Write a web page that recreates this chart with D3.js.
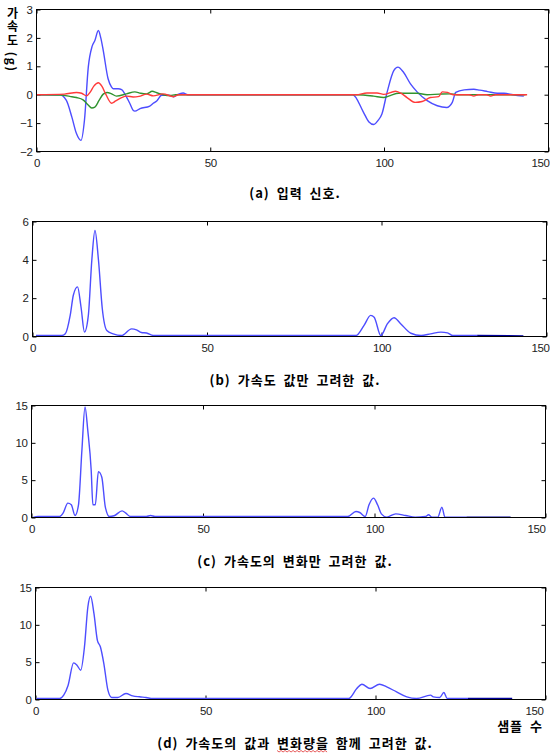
<!DOCTYPE html>
<html>
<head>
<meta charset="utf-8">
<script src="https://cdn.jsdelivr.net/npm/d3@7"></script>
<style>
body { margin: 0; background: #fff; }
.tick text { font-family: "Liberation Sans", Arial, sans-serif; font-size: 11.5px; letter-spacing: -0.4px; fill: #222; }
.tick line { stroke: #000; }
.cap { font-family: "Noto Sans CJK KR", sans-serif; font-weight: bold; font-size: 13px;
       letter-spacing: 1px; word-spacing: 3px; fill: #000; }
.ylab { font-family: "Noto Sans CJK KR", sans-serif; font-weight: bold; font-size: 12px; fill: #000;
        writing-mode: vertical-rl; text-orientation: mixed; letter-spacing: 1.5px; }
</style>
</head>
<body>
<div id="chart"></div>
<script>
// x axis: sample number
var xStops = [0, 100, 150];
var xTicks = [0, 50, 100, 150];

// y ticks per panel
var aTicks = [-2, -1, 0, 1, 2, 3];
var bTicks = [0, 2, 4, 6];
var cTicks = [0, 5, 10, 15];
var dTicks = [0, 5, 10, 15];

// (a) input signal, three axes [sample, g]
var aBlue = [[0,0],[6.7,0],[8.6,-0.2],[10.2,-0.8],[11.5,-1.37],[12.8,-1.61],[13.8,-0.9],[14.9,0.97],
  [16,1.7],[16.8,1.91],[17.8,2.26],[18.5,2.0],[19.2,1.56],[20.6,0.56],[21.6,0.27],[22.1,0.21],
  [23.5,0.21],[24.5,0.18],[25.4,0.03],[26.9,-0.32],[27.8,-0.55],[28.3,-0.58],[29.8,-0.49],
  [32.6,-0.4],[33.6,-0.3],[34.6,-0.22],[36,-0.02],[38,-0.02],[39.4,-0.07],[40.5,0],[42.2,0.06],
  [43.5,0],[91,0],[94.1,-0.62],[95.6,-0.95],[97.1,-1.05],[98.2,-0.92],[99.4,-0.68],[100.95,0.09],
  [102.97,0.85],[104.24,0.97],[105.93,0.79],[108.05,0.38],[110.06,0.1],[113.13,-0.21],[116.2,-0.39],
  [119.06,-0.45],[120.76,-0.27],[121.8,0.08],[124.36,0.17],[127.3,0.19],[129.1,0.16],[131.5,0.11],
  [134.5,0.05],[136.5,0.05],[139.2,0],[142.5,-0.05]];
var aGreen = [[0,0],[7,-0.01],[9.6,-0.06],[11.5,-0.1],[13.4,-0.18],[14.8,-0.35],[15.9,-0.47],
  [16.8,-0.44],[18,-0.2],[19.2,0.02],[20.3,0.08],[21.5,0.04],[23,-0.05],[25.9,0.03],[28.3,0.1],
  [30,0.05],[31.7,0.03],[33.3,0.12],[34.6,0.07],[36.5,0],[38.5,-0.03],[40,0],[92,0],[97,-0.05],
  [99.9,-0.1],[101.9,-0.03],[104.4,0.05],[110.1,0.05],[113.1,0],[116.9,0.02],[120.1,0.03],
  [122.2,0],[143,0]];
var aRed = [[0,0],[8,0.02],[11.5,0.08],[13,0.05],[14.4,-0.04],[15.5,0.1],[16.5,0.3],[17.8,0.42],
  [18.8,0.3],[20,0],[21.6,-0.3],[22.8,-0.22],[24.5,-0.1],[26,-0.05],[27.8,-0.08],[29.5,-0.06],
  [31.7,0.02],[33.6,-0.04],[36.4,0.03],[39.4,-0.07],[41,0],[92,0],[95.1,0.06],[98,0.06],
  [99.9,0.01],[103.5,0.12],[105,0.06],[107,-0.1],[109.5,-0.27],[111.6,-0.24],[114.1,-0.1],
  [116.6,-0.07],[117.7,0.1],[119.3,0.08],[121.2,0],[125.9,0],[127.3,-0.05],[128.6,0],[131.2,0],
  [132.4,-0.05],[133.9,0],[143.5,0]];

// (b) acceleration value only
var bBlue = [[1,0.05],[8.4,0.05],[9.4,0.14],[10.8,1.1],[11.7,2.15],[12.9,2.59],[13.9,1.54],
  [14.9,0.23],[16,1.1],[17,3.99],[17.9,5.53],[18.9,3.99],[20,1.45],[21.3,0.31],[23.1,0.14],
  [25.5,0.05],[28.4,0.4],[29.8,0.35],[31.2,0.21],[32.7,0.18],[34.6,0.05],[92.7,0.05],[95,0.58],
  [96.9,1.1],[97.9,1.01],[99.8,0.05],[101.8,0.67],[103.8,0.98],[105.8,0.67],[108.9,0.17],
  [112,0.05],[114.9,0.14],[118,0.23],[120,0.19],[121.6,0.05],[129,0.05]];
var bTail = [[129,0.05],[143,0.03]];

// (c) change of acceleration only
var cBlue = [[0.5,0],[1.9,0.13],[8.2,0.13],[9.2,0.58],[10.6,1.92],[11.6,1.7],[12.7,0.27],
  [13.7,1.7],[14.7,9.04],[15.6,14.82],[16.4,11.7],[17.4,6.37],[17.9,1.7],[18.6,1.7],[19.5,6.14],
  [20.5,5.39],[21.5,1.47],[22.7,0.13],[24.1,0.23],[26.4,0.89],[27.5,0.58],[28.8,0.13],[33.5,0.13],
  [34.7,0.27],[36,0.13],[92.2,0.13],[94.6,0.8],[95.7,0.67],[97.3,0.13],[98.4,1.7],[99.7,2.59],
  [100.9,1.7],[102,0.49],[103.6,0.05],[106.2,0.49],[109.1,0.27],[111.9,0.05],[114.9,0.13],
  [115.8,0.36],[116.8,0.05],[118.5,0.05],[119.7,1.39],[120.6,0.05],[126.9,0.05]];
var cTail = [[126.9,0.05],[139.8,0.05]];

// (d) value and change together
var dBlue = [[0.3,0.13],[7.1,0.13],[8.3,0.58],[9.6,1.92],[11.2,4.9],[12.2,4.59],[13.3,3.92],
  [14.4,7.04],[15.4,12.39],[16.2,13.82],[17.2,11.5],[18.2,7.93],[19.1,7.04],[20.1,4.82],
  [21.3,1.25],[22.4,0.27],[24.2,0.27],[26.6,0.8],[28.6,0.49],[30.6,0.36],[32.5,0.27],[34.5,0.13],
  [92.1,0.13],[94.5,1.47],[96,2.05],[98.4,1.47],[101.2,2.05],[103.3,1.69],[106.2,1.02],
  [109.2,0.35],[112.1,0.13],[116.2,0.58],[117,0.35],[118.9,0.27],[120.1,0.94],[121.1,0.13],
  [127.2,0.13]];
var dTail = [[127.2,0.13],[140.2,0.13]];

var captions = ["(a) 입력 신호.", "(b) 가속도 값만 고려한 값.",
  "(c) 가속도의 변화만 고려한 값.", "(d) 가속도의 값과 변화량을 함께 고려한 값."];
var yLabel = "가속도 (g)";
var xLabel = "샘플 수";

var svgWidth = 550;
var svgHeight = 754;

var svg = d3.select("#chart").append("svg")
    .attr("width", svgWidth)
    .attr("height", svgHeight);

// panel boxes (layout)
var panels = [
  {left: 36.5, x100: 384, right: 548.5, top: 9.5, bottom: 151.5, ticks: aTicks, capY: 193, lastEnd: 549,
   series: [{d: aBlue, c: "#4d4dff"}, {d: aGreen, c: "#2f932f"}, {d: aRed, c: "#ff3a3a"}]},
  {left: 32.5, x100: 381.5, right: 546.5, top: 221.5, bottom: 336.5, ticks: bTicks, capY: 380, lastEnd: 549,
   series: [{d: bBlue, c: "#4d4dff"}, {d: bTail, c: "#00009a"}]},
  {left: 31.5, x100: 374.5, right: 545.5, top: 405.5, bottom: 517.5, ticks: cTicks, capY: 561, lastEnd: 545,
   series: [{d: cBlue, c: "#4d4dff"}, {d: cTail, c: "#00009a"}]},
  {left: 35.5, x100: 375.5, right: 545.5, top: 587.5, bottom: 699.5, ticks: dTicks, capY: 743, lastEnd: 543,
   series: [{d: dBlue, c: "#4d4dff"}, {d: dTail, c: "#00009a"}]}
];

var fmt = d3.format("d");

panels.forEach(function(p, i) {
    var x = d3.scaleLinear().domain(xStops).range([p.left, p.x100, p.right]);
    var y = d3.scaleLinear()
        .domain([p.ticks[0], p.ticks[p.ticks.length - 1]])
        .range([p.bottom, p.top]);

    var g = svg.append("g");

    // inward ticks on all four sides
    var bottom = g.append("g")
        .attr("transform", `translate(0, ${p.bottom})`)
        .call(d3.axisBottom(x).tickValues(xTicks).tickFormat(fmt)
            .tickSizeInner(-4).tickSizeOuter(0).tickPadding(7))
        .call(a => a.select(".domain").remove());
    // keep the last label inside the figure, as in the original
    bottom.selectAll(".tick text")
        .filter(d => d === xTicks[xTicks.length - 1])
        .attr("text-anchor", "end")
        .attr("x", p.lastEnd - p.right);

    g.append("g")
        .attr("transform", `translate(0, ${p.top})`)
        .call(d3.axisTop(x).tickValues(xTicks).tickSizeInner(-4).tickSizeOuter(0).tickFormat(""))
        .call(a => a.select(".domain").remove());
    g.append("g")
        .attr("transform", `translate(${p.left}, 0)`)
        .call(d3.axisLeft(y).tickValues(p.ticks).tickFormat(fmt)
            .tickSizeInner(-4).tickSizeOuter(0).tickPadding(4))
        .call(a => a.select(".domain").remove());
    g.append("g")
        .attr("transform", `translate(${p.right}, 0)`)
        .call(d3.axisRight(y).tickValues(p.ticks).tickSizeInner(-4).tickSizeOuter(0).tickFormat(""))
        .call(a => a.select(".domain").remove());

    var line = d3.line()
        .x(d => x(d[0]))
        .y(d => y(d[1]))
        .curve(d3.curveMonotoneX);

    p.series.forEach(function(s) {
        g.append("path")
            .datum(s.d)
            .attr("fill", "none")
            .attr("stroke", s.c)
            .attr("stroke-width", 1.4)
            .attr("stroke-linejoin", "round")
            .attr("d", line);
    });

    // frame
    g.append("rect")
        .attr("x", p.left)
        .attr("y", p.top)
        .attr("width", p.right - p.left)
        .attr("height", p.bottom - p.top)
        .attr("fill", "none")
        .attr("stroke", "#000")
        .attr("stroke-width", 1);

    var cap = svg.append("text")
        .attr("class", "cap")
        .attr("x", 295)
        .attr("y", p.capY + 5)
        .attr("text-anchor", "middle")
        .text(captions[i]);

    // red spell-check squiggle under "변화량을" in the last caption
    if (i === 3) {
        var node = cap.node();
        var k = captions[i].indexOf("변화량을");
        var x0 = node.getStartPositionOfChar(k).x;
        var x1 = node.getEndPositionOfChar(k + 3).x;
        var yy = p.capY + 8;
        var pts = d3.range(x0, x1, 2).map((v, j) => [v, yy + (j % 2 ? 1 : -0.5)]);
        svg.append("path")
            .attr("d", d3.line()(pts))
            .attr("fill", "none")
            .attr("stroke", "#e03030")
            .attr("stroke-width", 0.8);
    }
});

// y label of panel (a): vertical writing, hangul upright, unit sideways
svg.append("text")
    .attr("class", "ylab")
    .attr("x", 12.5)
    .attr("y", 7)
    .text(yLabel);

svg.append("text")
    .attr("class", "cap")
    .attr("font-size", "12.5px")
    .attr("x", 543)
    .attr("y", 731)
    .attr("text-anchor", "end")
    .text(xLabel);
</script>
</body>
</html>
